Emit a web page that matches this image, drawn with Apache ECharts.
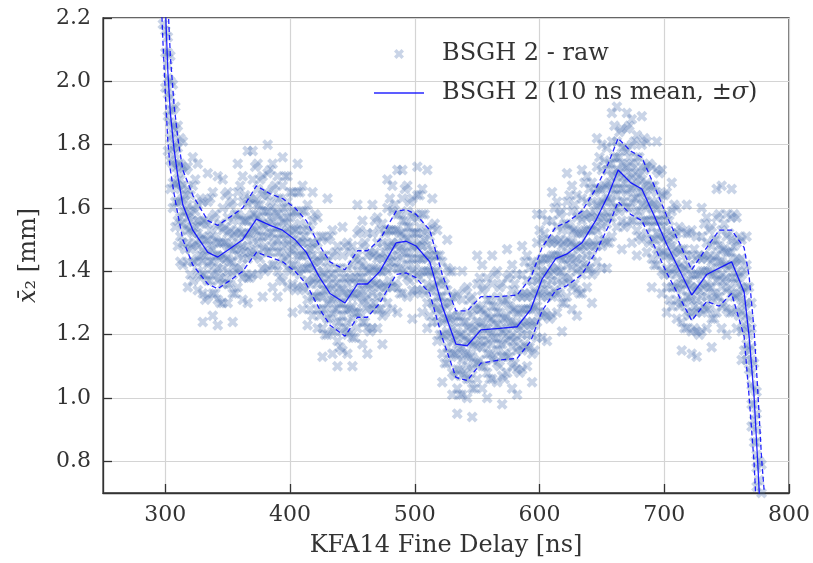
<!DOCTYPE html>
<html>
<head>
<meta charset="utf-8">
<title>BSGH 2 fine delay scan</title>
<style>
  html, body { margin: 0; padding: 0; background: #fff; }
  #chart { width: 813px; height: 563px; }
</style>
</head>
<body>
<div id="chart"></div>
<script src="https://cdn.jsdelivr.net/npm/echarts@6/dist/echarts.min.js"></script>
<script>
// 10 ns mean of x2 and its sigma
var meanX = [296, 298, 300, 302, 304, 307, 310, 314, 322, 334, 342, 352, 362, 373, 384, 394, 404, 413, 423, 432,
  444, 454, 462, 472, 485, 493, 501, 512, 522, 533, 542, 553, 568, 582, 593, 602, 613, 622, 634, 645,
  655, 663, 673, 682, 692, 702, 712, 722, 734, 744, 754, 764, 768, 772, 775, 778, 780];
var meanY = [2.68, 2.45, 2.24, 2.03, 1.90, 1.785, 1.70, 1.61, 1.53, 1.46, 1.445, 1.472, 1.50, 1.565, 1.545, 1.53, 1.50, 1.46, 1.385, 1.33,
  1.30, 1.36, 1.36, 1.40, 1.49, 1.495, 1.48, 1.43, 1.29, 1.17, 1.165, 1.215, 1.22, 1.225, 1.28, 1.375, 1.44, 1.455, 1.49, 1.56,
  1.64, 1.72, 1.68, 1.66, 1.575, 1.485, 1.405, 1.325, 1.39, 1.41, 1.43, 1.335, 1.195, 1.005, 0.79, 0.56, 0.41];
var sigma = [0.35, 0.32, 0.28, 0.22, 0.18, 0.14, 0.12, 0.11, 0.11, 0.10, 0.10, 0.10, 0.10, 0.105, 0.10, 0.10, 0.10, 0.10, 0.10, 0.10,
  0.105, 0.105, 0.105, 0.10, 0.10, 0.10, 0.10, 0.10, 0.10, 0.105, 0.11, 0.105, 0.10, 0.10, 0.10, 0.10, 0.10, 0.10, 0.10, 0.10,
  0.10, 0.10, 0.10, 0.10, 0.095, 0.09, 0.085, 0.08, 0.085, 0.12, 0.10, 0.14, 0.19, 0.21, 0.23, 0.25, 0.30];

// raw shots: delay positions and the x2 readings taken there
var rawX = [298, 300, 302, 304, 306, 308, 310, 312,
  314, 318, 322, 326, 330, 334, 338, 342, 346, 350, 354, 358, 362, 366, 370, 374, 378, 382, 386, 390, 394, 398,
  402, 406, 410, 414, 418, 422, 426, 430, 434, 438, 442, 446, 450, 454, 458, 462, 466, 470, 474, 478, 482, 486, 490, 494, 498,
  502, 506, 510, 514, 518, 522, 526, 530, 534, 538, 542, 546, 550, 554, 558, 562, 566, 570, 574, 578, 582, 586, 590, 594, 598,
  602, 606, 610, 614, 618, 622, 626, 630, 634, 638, 642, 646, 650, 654, 658, 662, 666, 670, 674, 678, 682, 686, 690, 694, 698,
  702, 706, 710, 714, 718, 722, 726, 730, 734, 738, 742, 746, 750, 754, 758, 762, 766, 770, 774, 778];
var rawY = [
  [2.62,2.55,2.50,2.46,2.42,2.37,2.30,2.18],
  [2.42,2.34,2.29,2.25,2.21,2.16,2.09,1.98],
  [2.22,2.14,2.09,2.05,2.01,1.96,1.89,1.78],
  [2.08,2.00,1.95,1.91,1.87,1.82,1.75,1.66],
  [1.99,1.91,1.86,1.83,1.79,1.74,1.68,1.60],
  [1.92,1.85,1.80,1.77,1.73,1.68,1.62,1.54],
  [1.86,1.79,1.74,1.71,1.67,1.62,1.56,1.48],
  [1.82,1.74,1.69,1.66,1.62,1.57,1.51,1.43],
  [1.81,1.73,1.67,1.63,1.59,1.55,1.49,1.42],
  [1.73,1.66,1.61,1.57,1.53,1.49,1.43,1.35],
  [1.76,1.67,1.60,1.56,1.52,1.48,1.43,1.37],
  [1.74,1.61,1.56,1.52,1.48,1.44,1.40,1.34],
  [1.62,1.56,1.51,1.47,1.43,1.39,1.33,1.24],
  [1.71,1.62,1.55,1.50,1.46,1.42,1.37,1.32],
  [1.65,1.57,1.51,1.47,1.43,1.39,1.33,1.26],
  [1.70,1.54,1.49,1.45,1.41,1.37,1.31,1.23],
  [1.69,1.60,1.53,1.49,1.45,1.41,1.36,1.30],
  [1.65,1.57,1.52,1.48,1.44,1.40,1.36,1.30],
  [1.62,1.56,1.51,1.47,1.43,1.39,1.33,1.24],
  [1.74,1.65,1.58,1.53,1.49,1.45,1.40,1.35],
  [1.70,1.62,1.56,1.52,1.48,1.44,1.38,1.31],
  [1.78,1.61,1.56,1.52,1.48,1.44,1.38,1.30],
  [1.78,1.69,1.62,1.58,1.54,1.50,1.45,1.39],
  [1.74,1.66,1.61,1.57,1.53,1.49,1.45,1.39],
  [1.70,1.64,1.59,1.55,1.51,1.47,1.41,1.32],
  [1.80,1.71,1.64,1.59,1.55,1.51,1.46,1.41],
  [1.74,1.66,1.60,1.56,1.52,1.48,1.42,1.35],
  [1.70,1.63,1.58,1.54,1.50,1.46,1.40,1.32],
  [1.76,1.67,1.60,1.56,1.52,1.48,1.43,1.37],
  [1.70,1.62,1.57,1.53,1.49,1.45,1.41,1.35],
  [1.65,1.59,1.54,1.50,1.46,1.42,1.36,1.27],
  [1.74,1.65,1.58,1.53,1.49,1.45,1.40,1.35],
  [1.67,1.59,1.53,1.49,1.45,1.41,1.35,1.28],
  [1.61,1.54,1.49,1.45,1.41,1.37,1.31,1.23],
  [1.65,1.56,1.49,1.45,1.41,1.37,1.32,1.26],
  [1.57,1.49,1.44,1.40,1.36,1.32,1.28,1.22],
  [1.51,1.45,1.40,1.36,1.32,1.28,1.22,1.13],
  [1.63,1.50,1.43,1.38,1.34,1.30,1.25,1.20],
  [1.53,1.45,1.39,1.35,1.31,1.27,1.21,1.14],
  [1.48,1.41,1.36,1.32,1.28,1.24,1.18,1.10],
  [1.54,1.45,1.38,1.34,1.30,1.26,1.21,1.15],
  [1.49,1.41,1.36,1.32,1.28,1.24,1.20,1.14],
  [1.48,1.42,1.37,1.33,1.29,1.25,1.19,1.10],
  [1.61,1.52,1.45,1.40,1.36,1.32,1.27,1.22],
  [1.56,1.48,1.42,1.38,1.34,1.30,1.24,1.17],
  [1.52,1.45,1.40,1.36,1.32,1.28,1.22,1.14],
  [1.61,1.52,1.45,1.41,1.37,1.33,1.28,1.22],
  [1.57,1.49,1.44,1.40,1.36,1.32,1.28,1.22],
  [1.55,1.49,1.44,1.40,1.36,1.32,1.26,1.17],
  [1.69,1.60,1.53,1.48,1.44,1.40,1.35,1.30],
  [1.67,1.59,1.53,1.49,1.45,1.41,1.35,1.28],
  [1.72,1.58,1.53,1.49,1.45,1.41,1.35,1.27],
  [1.72,1.63,1.56,1.52,1.48,1.44,1.39,1.33],
  [1.67,1.59,1.54,1.50,1.46,1.42,1.38,1.32],
  [1.63,1.57,1.52,1.48,1.44,1.40,1.34,1.25],
  [1.73,1.64,1.57,1.52,1.48,1.44,1.39,1.34],
  [1.66,1.58,1.52,1.48,1.44,1.40,1.34,1.27],
  [1.72,1.53,1.48,1.44,1.40,1.36,1.30,1.22],
  [1.63,1.54,1.47,1.43,1.39,1.35,1.30,1.24],
  [1.53,1.45,1.40,1.36,1.32,1.28,1.24,1.18],
  [1.43,1.37,1.32,1.28,1.24,1.20,1.14,1.05],
  [1.50,1.41,1.34,1.29,1.25,1.21,1.16,1.11],
  [1.40,1.32,1.26,1.22,1.18,1.14,1.08,1.01],
  [1.33,1.26,1.21,1.17,1.13,1.09,1.03,0.95],
  [1.40,1.31,1.24,1.20,1.16,1.12,1.07,1.01],
  [1.35,1.27,1.22,1.18,1.14,1.10,1.06,1.00],
  [1.32,1.26,1.21,1.17,1.13,1.09,1.03,0.94],
  [1.45,1.36,1.29,1.24,1.20,1.16,1.11,1.06],
  [1.42,1.34,1.28,1.24,1.20,1.16,1.10,1.03],
  [1.38,1.31,1.26,1.22,1.18,1.14,1.08,1.00],
  [1.45,1.36,1.29,1.25,1.21,1.17,1.12,1.06],
  [1.40,1.32,1.27,1.23,1.19,1.15,1.11,1.05],
  [1.36,1.30,1.25,1.21,1.17,1.13,1.07,0.98],
  [1.47,1.38,1.31,1.26,1.22,1.18,1.13,1.08],
  [1.42,1.34,1.28,1.24,1.20,1.16,1.10,1.03],
  [1.39,1.32,1.27,1.23,1.19,1.15,1.09,1.01],
  [1.48,1.39,1.32,1.28,1.24,1.20,1.15,1.09],
  [1.45,1.37,1.32,1.28,1.24,1.20,1.16,1.10],
  [1.43,1.37,1.32,1.28,1.24,1.20,1.14,1.05],
  [1.58,1.49,1.42,1.37,1.33,1.29,1.24,1.19],
  [1.58,1.50,1.44,1.40,1.36,1.32,1.26,1.19],
  [1.56,1.49,1.44,1.40,1.36,1.32,1.26,1.18],
  [1.65,1.56,1.49,1.45,1.41,1.37,1.32,1.26],
  [1.62,1.54,1.49,1.45,1.41,1.37,1.33,1.27],
  [1.59,1.53,1.48,1.44,1.40,1.36,1.30,1.21],
  [1.71,1.62,1.55,1.50,1.46,1.42,1.37,1.32],
  [1.67,1.59,1.53,1.49,1.45,1.41,1.35,1.28],
  [1.64,1.57,1.52,1.48,1.44,1.40,1.34,1.26],
  [1.72,1.63,1.56,1.52,1.48,1.44,1.39,1.33],
  [1.70,1.62,1.57,1.53,1.49,1.45,1.41,1.35],
  [1.68,1.62,1.57,1.53,1.49,1.45,1.39,1.30],
  [1.82,1.73,1.66,1.61,1.57,1.53,1.48,1.43],
  [1.80,1.72,1.66,1.62,1.58,1.54,1.48,1.41],
  [1.79,1.72,1.67,1.63,1.59,1.55,1.49,1.41],
  [1.90,1.81,1.74,1.70,1.66,1.62,1.57,1.51],
  [1.92,1.81,1.76,1.72,1.68,1.64,1.60,1.54],
  [1.85,1.79,1.74,1.70,1.66,1.62,1.56,1.47],
  [1.90,1.85,1.78,1.73,1.69,1.65,1.60,1.55],
  [1.88,1.80,1.74,1.70,1.66,1.62,1.56,1.49],
  [1.83,1.76,1.71,1.67,1.63,1.59,1.53,1.45],
  [1.89,1.80,1.73,1.69,1.65,1.61,1.56,1.50],
  [1.81,1.73,1.68,1.64,1.60,1.56,1.52,1.46],
  [1.73,1.67,1.62,1.58,1.54,1.50,1.44,1.35],
  [1.81,1.72,1.65,1.60,1.56,1.52,1.47,1.42],
  [1.72,1.64,1.58,1.54,1.50,1.46,1.40,1.33],
  [1.65,1.58,1.53,1.49,1.45,1.41,1.35,1.27],
  [1.68,1.59,1.52,1.48,1.44,1.40,1.35,1.29],
  [1.60,1.52,1.47,1.43,1.39,1.35,1.31,1.25],
  [1.53,1.47,1.42,1.38,1.34,1.30,1.24,1.15],
  [1.61,1.52,1.45,1.40,1.36,1.32,1.27,1.22],
  [1.53,1.45,1.39,1.35,1.31,1.27,1.21,1.14],
  [1.51,1.44,1.39,1.35,1.31,1.27,1.21,1.13],
  [1.60,1.51,1.44,1.40,1.36,1.32,1.27,1.21],
  [1.57,1.49,1.44,1.40,1.36,1.32,1.28,1.22],
  [1.54,1.48,1.43,1.39,1.35,1.31,1.25,1.16],
  [1.66,1.57,1.50,1.45,1.41,1.37,1.32,1.27],
  [1.67,1.53,1.47,1.43,1.39,1.35,1.29,1.22],
  [1.58,1.51,1.46,1.42,1.38,1.34,1.28,1.20],
  [1.66,1.57,1.50,1.46,1.42,1.38,1.33,1.27],
  [1.57,1.49,1.44,1.40,1.36,1.32,1.28,1.22],
  [1.50,1.44,1.39,1.35,1.31,1.27,1.21,1.12],
  [1.51,1.42,1.35,1.30,1.26,1.22,1.17,1.12],
  [1.30,1.22,1.16,1.12,1.08,1.04,0.98,0.91],
  [1.02,0.95,0.90,0.86,0.82,0.78,0.72,0.64],
  [0.79,0.70,0.63,0.59,0.55,0.51,0.46,0.40]
];

// further raw shots, taken between the positions above
var rawMidX = [316, 320, 324, 328, 332, 336, 340, 344, 348, 352, 356, 360, 364, 368, 372, 376, 380, 384, 388, 392, 396, 400,
  404, 408, 412, 416, 420, 424, 428, 432, 436, 440, 444, 448, 452, 456, 460, 464, 468, 472, 476, 480, 484, 488, 492, 496, 500,
  504, 508, 512, 516, 520, 524, 528, 532, 536, 540, 544, 548, 552, 556, 560, 564, 568, 572, 576, 580, 584, 588, 592, 596, 600,
  604, 608, 612, 616, 620, 624, 628, 632, 636, 640, 644, 648, 652, 656, 660, 664, 668, 672, 676, 680, 684, 688, 692, 696, 700,
  704, 708, 712, 716, 720, 724, 728, 732, 736, 740, 744, 748, 752, 756, 760, 764, 768, 772, 776];
var rawMidY = [
  [1.72,1.64,1.59,1.54,1.47], [1.64,1.58,1.53,1.47,1.39], [1.69,1.59,1.54,1.49,1.43], [1.63,1.55,1.50,1.45,1.38],
  [1.56,1.50,1.45,1.39,1.31], [1.63,1.53,1.48,1.43,1.37], [1.58,1.50,1.45,1.40,1.33], [1.55,1.49,1.44,1.38,1.30],
  [1.64,1.54,1.49,1.44,1.38], [1.61,1.53,1.48,1.43,1.36], [1.58,1.52,1.47,1.41,1.33], [1.67,1.57,1.52,1.47,1.41],
  [1.64,1.56,1.51,1.46,1.39], [1.63,1.57,1.52,1.46,1.38], [1.73,1.63,1.58,1.53,1.47], [1.69,1.61,1.56,1.51,1.44],
  [1.65,1.59,1.54,1.48,1.40], [1.72,1.62,1.57,1.52,1.46], [1.67,1.59,1.54,1.49,1.42], [1.63,1.57,1.52,1.46,1.38],
  [1.70,1.60,1.55,1.50,1.44], [1.65,1.57,1.52,1.47,1.40], [1.59,1.53,1.48,1.42,1.34], [1.65,1.55,1.50,1.45,1.39],
  [1.59,1.51,1.46,1.41,1.34], [1.53,1.47,1.42,1.36,1.28], [1.58,1.48,1.43,1.38,1.32], [1.51,1.43,1.38,1.33,1.26],
  [1.45,1.39,1.34,1.28,1.20], [1.51,1.41,1.36,1.31,1.25], [1.46,1.38,1.33,1.28,1.21], [1.41,1.35,1.30,1.24,1.16],
  [1.48,1.38,1.33,1.28,1.22], [1.46,1.38,1.33,1.28,1.21], [1.44,1.38,1.33,1.27,1.19], [1.53,1.43,1.38,1.33,1.27],
  [1.49,1.41,1.36,1.31,1.24], [1.46,1.40,1.35,1.29,1.21], [1.56,1.46,1.41,1.36,1.30], [1.53,1.45,1.40,1.35,1.28],
  [1.52,1.46,1.41,1.35,1.27], [1.63,1.53,1.48,1.43,1.37], [1.61,1.53,1.48,1.43,1.36], [1.58,1.52,1.47,1.41,1.33],
  [1.66,1.56,1.51,1.46,1.40], [1.62,1.54,1.49,1.44,1.37], [1.58,1.52,1.47,1.41,1.33], [1.64,1.54,1.49,1.44,1.38],
  [1.58,1.50,1.45,1.40,1.33], [1.51,1.45,1.40,1.34,1.26], [1.55,1.45,1.40,1.35,1.29], [1.45,1.37,1.32,1.27,1.20],
  [1.36,1.30,1.25,1.19,1.11], [1.40,1.30,1.25,1.20,1.14], [1.32,1.24,1.19,1.14,1.07], [1.26,1.20,1.15,1.09,1.01],
  [1.34,1.24,1.19,1.14,1.08], [1.31,1.23,1.18,1.13,1.06], [1.28,1.22,1.17,1.11,1.03], [1.38,1.28,1.23,1.18,1.12],
  [1.35,1.27,1.22,1.17,1.10], [1.31,1.25,1.20,1.14,1.06], [1.39,1.29,1.24,1.19,1.13], [1.35,1.27,1.22,1.17,1.10],
  [1.31,1.25,1.20,1.14,1.06], [1.39,1.29,1.24,1.19,1.13], [1.36,1.28,1.23,1.18,1.11], [1.33,1.27,1.22,1.16,1.08],
  [1.43,1.33,1.28,1.23,1.17], [1.41,1.33,1.28,1.23,1.16], [1.40,1.34,1.29,1.23,1.15], [1.53,1.43,1.38,1.33,1.27],
  [1.52,1.44,1.39,1.34,1.27], [1.50,1.44,1.39,1.33,1.25], [1.60,1.50,1.45,1.40,1.34], [1.58,1.50,1.45,1.40,1.33],
  [1.55,1.49,1.44,1.38,1.30], [1.64,1.54,1.49,1.44,1.38], [1.61,1.53,1.48,1.43,1.36], [1.58,1.52,1.47,1.41,1.33],
  [1.68,1.58,1.53,1.48,1.42], [1.66,1.58,1.53,1.48,1.41], [1.65,1.59,1.54,1.48,1.40], [1.76,1.66,1.61,1.56,1.50],
  [1.75,1.67,1.62,1.57,1.50], [1.74,1.68,1.63,1.57,1.49], [1.86,1.76,1.71,1.66,1.60], [1.84,1.76,1.71,1.66,1.59],
  [1.79,1.73,1.68,1.62,1.54], [1.86,1.76,1.71,1.66,1.60], [1.81,1.73,1.68,1.63,1.56], [1.76,1.70,1.65,1.59,1.51],
  [1.82,1.72,1.67,1.62,1.56], [1.74,1.66,1.61,1.56,1.49], [1.67,1.61,1.56,1.50,1.42], [1.71,1.61,1.56,1.51,1.45],
  [1.64,1.56,1.51,1.46,1.39], [1.56,1.50,1.45,1.39,1.31], [1.61,1.51,1.46,1.41,1.35], [1.54,1.46,1.41,1.36,1.29],
  [1.47,1.41,1.36,1.30,1.22], [1.52,1.42,1.37,1.32,1.26], [1.47,1.39,1.34,1.29,1.22], [1.45,1.39,1.34,1.28,1.20],
  [1.55,1.45,1.40,1.35,1.29], [1.53,1.45,1.40,1.35,1.28], [1.50,1.44,1.39,1.33,1.25], [1.58,1.48,1.43,1.38,1.32],
  [1.55,1.47,1.42,1.37,1.30], [1.52,1.46,1.41,1.35,1.27], [1.58,1.48,1.43,1.38,1.32], [1.51,1.43,1.38,1.33,1.26],
  [1.40,1.34,1.29,1.23,1.15], [1.35,1.25,1.20,1.15,1.09], [1.11,1.03,0.98,0.93,0.86], [0.80,0.74,0.69,0.63,0.55]
];

var rawName = 'BSGH 2 - raw';
var meanName = 'BSGH 2 (10 ns mean, ±σ)';

var serif = "'DejaVu Serif', serif";
var textColor = '#333';
var lineColor = 'rgba(0,0,255,0.85)';
// filled "X" marker with thick arms
var crossSymbol = 'path://M2.5,0L5,2.5L7.5,0L10,2.5L7.5,5L10,7.5L7.5,10L5,7.5L2.5,10L0,7.5L2.5,5L0,2.5Z';
var lineIcon = 'path://M0,0L50,0L50,1.3L0,1.3Z';

var rawData = [];
function addRaw(xs, ys) {
  for (var i = 0; i < xs.length && i < ys.length; i++) {
    for (var j = 0; j < ys[i].length; j++) {
      rawData.push([xs[i], ys[i][j]]);
    }
  }
}
addRaw(rawX, rawY);
addRaw(rawMidX, rawMidY);

var meanData = [], upperData = [], lowerData = [];
for (var k = 0; k < meanX.length; k++) {
  meanData.push([meanX[k], meanY[k]]);
  upperData.push([meanX[k], +(meanY[k] + sigma[k]).toFixed(4)]);
  lowerData.push([meanX[k], +(meanY[k] - sigma[k]).toFixed(4)]);
}

var chart = echarts.init(document.getElementById('chart'), null, { renderer: 'canvas' });

var option = {
  animation: false,
  backgroundColor: '#fff',
  grid: {
    left: 103, right: 23.5, top: 18, bottom: 66,
    show: true, borderColor: '#333', borderWidth: 1.3, backgroundColor: 'transparent'
  },
  legend: {
    orient: 'vertical',
    left: 369,
    top: 37,
    itemWidth: 50,
    itemHeight: 10,
    itemGap: 15,
    symbolKeepAspect: true,
    data: [
      { name: rawName },
      { name: meanName, icon: lineIcon }
    ],
    formatter: function (name) {
      if (name === meanName) return '{n|BSGH 2 (10 ns mean, ±}{i|σ}{n|)}';
      return '{n|' + name + '}';
    },
    textStyle: {
      fontFamily: serif, fontSize: 24, color: textColor,
      padding: [0, 0, 0, 13],
      rich: {
        n: { fontFamily: serif, fontSize: 24, color: textColor },
        i: { fontFamily: serif, fontSize: 24, color: textColor, fontStyle: 'italic' }
      }
    }
  },
  xAxis: {
    type: 'value',
    min: 250, max: 800, splitNumber: 5,
    name: 'KFA14 Fine Delay [ns]',
    nameLocation: 'middle',
    nameGap: 41,
    nameTextStyle: { fontFamily: serif, fontSize: 24, color: textColor },
    axisLine: { show: true, lineStyle: { color: '#333', width: 1.3 } },
    axisTick: { show: true, inside: true, length: 9, lineStyle: { color: '#333', width: 1.3 } },
    axisLabel: { fontFamily: serif, fontSize: 22, color: textColor, margin: 11, showMinLabel: false },
    splitLine: { show: true, lineStyle: { color: '#d4d4d4', width: 1.2 } }
  },
  yAxis: {
    type: 'value',
    min: 0.7, max: 2.2, splitNumber: 7,
    name: '{i|x̄}{n|₂ [mm]}',
    nameLocation: 'middle',
    nameRotate: 90,
    nameGap: 62,
    nameTextStyle: {
      fontFamily: serif, fontSize: 24, color: textColor,
      rich: {
        i: { fontFamily: serif, fontSize: 24, color: textColor, fontStyle: 'italic' },
        n: { fontFamily: serif, fontSize: 24, color: textColor }
      }
    },
    axisLine: { show: true, lineStyle: { color: '#333', width: 1.3 } },
    axisTick: { show: true, inside: true, length: 9, lineStyle: { color: '#333', width: 1.3 } },
    axisLabel: {
      fontFamily: serif, fontSize: 22, color: textColor, margin: 12, showMinLabel: false,
      formatter: function (v) { return v.toFixed(1); }
    },
    splitLine: { show: true, lineStyle: { color: '#d4d4d4', width: 1.2 } }
  },
  series: [
    {
      name: rawName,
      type: 'scatter',
      data: rawData,
      symbol: crossSymbol,
      symbolSize: 11,
      symbolKeepAspect: true,
      itemStyle: { color: '#4c72b0', opacity: 0.3 },
      z: 1
    },
    {
      name: meanName,
      type: 'line',
      data: meanData,
      symbol: 'none',
      lineStyle: { color: lineColor, width: 1.3 },
      itemStyle: { color: lineColor },
      z: 3
    },
    {
      name: 'upper',
      type: 'line',
      data: upperData,
      symbol: 'none',
      lineStyle: { color: lineColor, width: 1.3, type: [5, 3] },
      itemStyle: { color: lineColor },
      z: 3
    },
    {
      name: 'lower',
      type: 'line',
      data: lowerData,
      symbol: 'none',
      lineStyle: { color: lineColor, width: 1.3, type: [5, 3] },
      itemStyle: { color: lineColor },
      z: 3
    }
  ]
};

chart.setOption(option);
</script>
</body>
</html>
